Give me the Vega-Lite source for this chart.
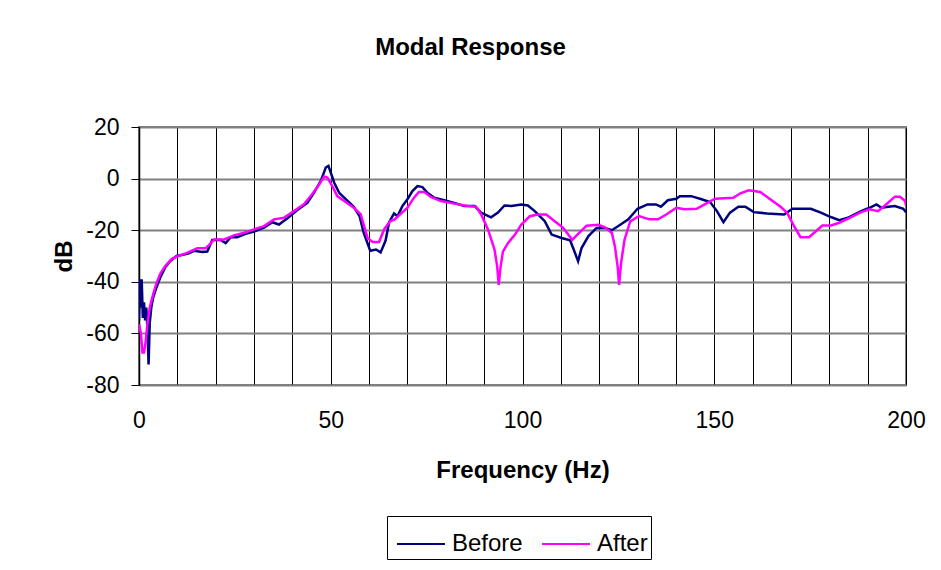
{
  "$schema": "https://vega.github.io/schema/vega-lite/v6.json",
  "width": 767,
  "height": 258,
  "autosize": "none",
  "padding": {"left": 139, "top": 127, "right": 35, "bottom": 185},
  "background": "white",
  "title": {
    "text": "Modal Response",
    "font": "Liberation Sans",
    "fontSize": 24,
    "fontWeight": "bold",
    "color": "black",
    "anchor": "middle",
    "dx": -52,
    "offset": 56
  },
  "config": {
    "view": {"stroke": "#808080", "strokeWidth": 2},
    "font": "Liberation Sans"
  },
  "data": {
    "values": [
      {"f":0,"v":-55,"s":"Before"},{"f":0.3,"v":-39,"s":"Before"},{"f":0.5,"v":-50,"s":"Before"},{"f":0.7,"v":-39,"s":"Before"},{"f":1.0,"v":-54,"s":"Before"},{"f":1.3,"v":-48,"s":"Before"},{"f":1.6,"v":-55,"s":"Before"},{"f":1.9,"v":-50,"s":"Before"},{"f":2.2,"v":-58,"s":"Before"},{"f":2.5,"v":-72,"s":"Before"},{"f":2.8,"v":-56,"s":"Before"},{"f":3.2,"v":-50,"s":"Before"},{"f":3.7,"v":-46,"s":"Before"},{"f":4.6,"v":-42,"s":"Before"},{"f":5.5,"v":-38.5,"s":"Before"},{"f":6.8,"v":-34.5,"s":"Before"},{"f":8.1,"v":-32,"s":"Before"},{"f":9.8,"v":-30,"s":"Before"},{"f":11.5,"v":-29.5,"s":"Before"},{"f":13,"v":-29,"s":"Before"},{"f":14.3,"v":-28,"s":"Before"},{"f":16.5,"v":-28.4,"s":"Before"},{"f":17.8,"v":-28.3,"s":"Before"},{"f":19.1,"v":-23.8,"s":"Before"},{"f":21.3,"v":-23.8,"s":"Before"},{"f":22.6,"v":-25,"s":"Before"},{"f":23.9,"v":-22.7,"s":"Before"},{"f":25.6,"v":-22.7,"s":"Before"},{"f":27.8,"v":-21.4,"s":"Before"},{"f":30,"v":-20.5,"s":"Before"},{"f":32.6,"v":-19,"s":"Before"},{"f":34.8,"v":-16.9,"s":"Before"},{"f":36.5,"v":-17.8,"s":"Before"},{"f":38.7,"v":-15.4,"s":"Before"},{"f":41.3,"v":-12.2,"s":"Before"},{"f":43.9,"v":-9.4,"s":"Before"},{"f":45.6,"v":-5.5,"s":"Before"},{"f":47.4,"v":-0.9,"s":"Before"},{"f":48.7,"v":4.3,"s":"Before"},{"f":49.4,"v":4.9,"s":"Before"},{"f":50,"v":2.3,"s":"Before"},{"f":50.9,"v":-1.6,"s":"Before"},{"f":52.2,"v":-5.5,"s":"Before"},{"f":53.5,"v":-7.4,"s":"Before"},{"f":56,"v":-10.9,"s":"Before"},{"f":57.5,"v":-14.5,"s":"Before"},{"f":58.6,"v":-21,"s":"Before"},{"f":60.3,"v":-28,"s":"Before"},{"f":61.8,"v":-27.5,"s":"Before"},{"f":63,"v":-28.6,"s":"Before"},{"f":64.3,"v":-24,"s":"Before"},{"f":65.2,"v":-17,"s":"Before"},{"f":66.5,"v":-13.5,"s":"Before"},{"f":67.4,"v":-14.6,"s":"Before"},{"f":68.7,"v":-10.6,"s":"Before"},{"f":70,"v":-8,"s":"Before"},{"f":71.3,"v":-4.8,"s":"Before"},{"f":72.6,"v":-2.9,"s":"Before"},{"f":73.9,"v":-3.3,"s":"Before"},{"f":75.2,"v":-5.5,"s":"Before"},{"f":77,"v":-7.4,"s":"Before"},{"f":79.6,"v":-8.4,"s":"Before"},{"f":82.2,"v":-9.4,"s":"Before"},{"f":84.8,"v":-10.6,"s":"Before"},{"f":87.5,"v":-10.6,"s":"Before"},{"f":89.2,"v":-13.2,"s":"Before"},{"f":91.8,"v":-15,"s":"Before"},{"f":93.6,"v":-13.2,"s":"Before"},{"f":95.3,"v":-10.4,"s":"Before"},{"f":97.1,"v":-10.6,"s":"Before"},{"f":99.7,"v":-10,"s":"Before"},{"f":101.4,"v":-10.4,"s":"Before"},{"f":103.2,"v":-12.6,"s":"Before"},{"f":105.8,"v":-16.5,"s":"Before"},{"f":107.6,"v":-21.7,"s":"Before"},{"f":110.2,"v":-23,"s":"Before"},{"f":112.4,"v":-23.9,"s":"Before"},{"f":113.2,"v":-26.9,"s":"Before"},{"f":114.5,"v":-32,"s":"Before"},{"f":115.4,"v":-26.9,"s":"Before"},{"f":117.2,"v":-22.3,"s":"Before"},{"f":119.3,"v":-19.1,"s":"Before"},{"f":121.5,"v":-19.1,"s":"Before"},{"f":123.3,"v":-20,"s":"Before"},{"f":125,"v":-18.4,"s":"Before"},{"f":127.6,"v":-15.8,"s":"Before"},{"f":130,"v":-11.7,"s":"Before"},{"f":132.6,"v":-10,"s":"Before"},{"f":134.8,"v":-10,"s":"Before"},{"f":136.1,"v":-10.9,"s":"Before"},{"f":137.9,"v":-8.4,"s":"Before"},{"f":140.1,"v":-7.8,"s":"Before"},{"f":141,"v":-6.8,"s":"Before"},{"f":144,"v":-6.8,"s":"Before"},{"f":146.7,"v":-8,"s":"Before"},{"f":148.9,"v":-9.1,"s":"Before"},{"f":150.7,"v":-12.6,"s":"Before"},{"f":152.4,"v":-16.9,"s":"Before"},{"f":154.1,"v":-13.2,"s":"Before"},{"f":156.3,"v":-10.9,"s":"Before"},{"f":158.1,"v":-10.9,"s":"Before"},{"f":160.3,"v":-13,"s":"Before"},{"f":163.8,"v":-13.5,"s":"Before"},{"f":168.2,"v":-13.9,"s":"Before"},{"f":170.4,"v":-11.7,"s":"Before"},{"f":175.2,"v":-11.7,"s":"Before"},{"f":177.8,"v":-13.2,"s":"Before"},{"f":180.4,"v":-14.9,"s":"Before"},{"f":182.6,"v":-16.1,"s":"Before"},{"f":184.8,"v":-15.2,"s":"Before"},{"f":188.3,"v":-12.6,"s":"Before"},{"f":190.5,"v":-11.3,"s":"Before"},{"f":192.3,"v":-10,"s":"Before"},{"f":193.6,"v":-11.3,"s":"Before"},{"f":195.4,"v":-10.9,"s":"Before"},{"f":197.1,"v":-10.6,"s":"Before"},{"f":199.3,"v":-11.7,"s":"Before"},{"f":200,"v":-13,"s":"Before"},
      {"f":0,"v":-56.5,"s":"After"},{"f":0.5,"v":-60,"s":"After"},{"f":0.9,"v":-67.4,"s":"After"},{"f":1.3,"v":-67.4,"s":"After"},{"f":1.7,"v":-63.5,"s":"After"},{"f":2.2,"v":-56.4,"s":"After"},{"f":2.8,"v":-50,"s":"After"},{"f":3.7,"v":-44.8,"s":"After"},{"f":4.6,"v":-40.4,"s":"After"},{"f":5.5,"v":-37,"s":"After"},{"f":6.8,"v":-34,"s":"After"},{"f":8.5,"v":-31.2,"s":"After"},{"f":10.2,"v":-30,"s":"After"},{"f":12.2,"v":-29,"s":"After"},{"f":15.2,"v":-27,"s":"After"},{"f":17.4,"v":-27,"s":"After"},{"f":18.3,"v":-25.7,"s":"After"},{"f":19.6,"v":-23.6,"s":"After"},{"f":22.2,"v":-23.6,"s":"After"},{"f":24.8,"v":-22,"s":"After"},{"f":27.4,"v":-21,"s":"After"},{"f":30,"v":-19.7,"s":"After"},{"f":32.6,"v":-18.4,"s":"After"},{"f":35.2,"v":-15.8,"s":"After"},{"f":37.8,"v":-15.2,"s":"After"},{"f":40.4,"v":-12.6,"s":"After"},{"f":43,"v":-10,"s":"After"},{"f":45.2,"v":-6,"s":"After"},{"f":47,"v":-2.2,"s":"After"},{"f":48.3,"v":0.8,"s":"After"},{"f":49.1,"v":0.4,"s":"After"},{"f":50.4,"v":-2.9,"s":"After"},{"f":51.7,"v":-6.8,"s":"After"},{"f":53.5,"v":-8.7,"s":"After"},{"f":56,"v":-11.3,"s":"After"},{"f":57.8,"v":-13.8,"s":"After"},{"f":58.7,"v":-18.4,"s":"After"},{"f":59.6,"v":-23,"s":"After"},{"f":60.9,"v":-24.6,"s":"After"},{"f":62.6,"v":-24.6,"s":"After"},{"f":63.9,"v":-19.7,"s":"After"},{"f":65.5,"v":-16.5,"s":"After"},{"f":66.5,"v":-16,"s":"After"},{"f":70,"v":-11.3,"s":"After"},{"f":71.7,"v":-7.4,"s":"After"},{"f":73,"v":-5.2,"s":"After"},{"f":74.4,"v":-5.2,"s":"After"},{"f":76.1,"v":-7.1,"s":"After"},{"f":78.7,"v":-8.7,"s":"After"},{"f":82.2,"v":-9.7,"s":"After"},{"f":85.7,"v":-10.6,"s":"After"},{"f":87.9,"v":-10.9,"s":"After"},{"f":89.2,"v":-13.8,"s":"After"},{"f":91,"v":-19.7,"s":"After"},{"f":92.7,"v":-27.5,"s":"After"},{"f":93.4,"v":-34,"s":"After"},{"f":93.8,"v":-41.2,"s":"After"},{"f":94.3,"v":-34,"s":"After"},{"f":94.9,"v":-28.3,"s":"After"},{"f":96.2,"v":-25,"s":"After"},{"f":98,"v":-21.8,"s":"After"},{"f":99.7,"v":-17.8,"s":"After"},{"f":101.9,"v":-14.6,"s":"After"},{"f":104.1,"v":-13.9,"s":"After"},{"f":106.2,"v":-13.9,"s":"After"},{"f":108.4,"v":-16.5,"s":"After"},{"f":110.6,"v":-19.1,"s":"After"},{"f":113,"v":-23.7,"s":"After"},{"f":114.5,"v":-21.4,"s":"After"},{"f":116.7,"v":-18.3,"s":"After"},{"f":119.8,"v":-17.9,"s":"After"},{"f":121.5,"v":-18.9,"s":"After"},{"f":123.3,"v":-21.1,"s":"After"},{"f":124.1,"v":-26.3,"s":"After"},{"f":124.8,"v":-34,"s":"After"},{"f":125.2,"v":-41.2,"s":"After"},{"f":125.7,"v":-32.8,"s":"After"},{"f":126.6,"v":-23.7,"s":"After"},{"f":128.1,"v":-16.6,"s":"After"},{"f":130.4,"v":-14.5,"s":"After"},{"f":133.1,"v":-15.8,"s":"After"},{"f":135.3,"v":-15.8,"s":"After"},{"f":137.5,"v":-13.9,"s":"After"},{"f":140.1,"v":-11.3,"s":"After"},{"f":142.3,"v":-11.9,"s":"After"},{"f":145.4,"v":-11.7,"s":"After"},{"f":147.5,"v":-10,"s":"After"},{"f":150.2,"v":-7.8,"s":"After"},{"f":155,"v":-7.4,"s":"After"},{"f":156.8,"v":-5.7,"s":"After"},{"f":159,"v":-4.5,"s":"After"},{"f":162,"v":-5.2,"s":"After"},{"f":164.6,"v":-8,"s":"After"},{"f":167.3,"v":-10.9,"s":"After"},{"f":169,"v":-13.2,"s":"After"},{"f":170.8,"v":-18.4,"s":"After"},{"f":172.5,"v":-22.7,"s":"After"},{"f":174.7,"v":-22.7,"s":"After"},{"f":176.5,"v":-20.4,"s":"After"},{"f":178.2,"v":-18.2,"s":"After"},{"f":180.4,"v":-18.2,"s":"After"},{"f":182.6,"v":-17.1,"s":"After"},{"f":185.3,"v":-15.2,"s":"After"},{"f":188.3,"v":-13,"s":"After"},{"f":190.5,"v":-11.9,"s":"After"},{"f":192.7,"v":-12.6,"s":"After"},{"f":194.5,"v":-10.4,"s":"After"},{"f":197.1,"v":-7,"s":"After"},{"f":198.4,"v":-7,"s":"After"},{"f":199.8,"v":-8.7,"s":"After"},{"f":200,"v":-10.5,"s":"After"}
    ]
  },
  "mark": {"type": "line", "strokeWidth": 2.5, "clip": true},
  "encoding": {
    "x": {
      "field": "f",
      "type": "quantitative",
      "scale": {"domain": [0, 200], "nice": false},
      "axis": {
        "title": "Frequency (Hz)",
        "titleFont": "Liberation Sans",
        "titleFontSize": 24,
        "titleFontWeight": "bold",
        "titleColor": "black",
        "titlePadding": 26,
        "values": [0,10,20,30,40,50,60,70,80,90,100,110,120,130,140,150,160,170,180,190,200],
        "labelExpr": "datum.value % 50 == 0 ? '' + datum.value : ''",
        "labelFont": "Liberation Sans",
        "labelFontSize": 23,
        "labelColor": "black",
        "labelPadding": 24,
        "labelFlush": false,
        "ticks": false,
        "domain": false,
        "grid": true,
        "gridColor": "black",
        "gridWidth": 1,
        "gridOpacity": 1
      }
    },
    "y": {
      "field": "v",
      "type": "quantitative",
      "scale": {"domain": [-80, 20], "nice": false},
      "axis": {
        "title": "dB",
        "titleFont": "Liberation Sans",
        "titleFontSize": 24,
        "titleFontWeight": "bold",
        "titleColor": "black",
        "titlePadding": 9,
        "values": [-80,-60,-40,-20,0,20],
        "labelExpr": "'' + datum.value",
        "labelFont": "Liberation Sans",
        "labelFontSize": 23,
        "labelColor": "black",
        "labelPadding": 12,
        "labelFlush": false,
        "ticks": true,
        "tickSize": 8,
        "tickColor": "black",
        "domain": true,
        "domainColor": "black",
        "domainWidth": 1.5,
        "grid": true,
        "gridColor": "#808080",
        "gridWidth": 2,
        "gridOpacity": 1
      }
    },
    "color": {
      "field": "s",
      "type": "nominal",
      "sort": ["Before", "After"],
      "scale": {"domain": ["Before", "After"], "range": ["#000080", "#FF00FF"]},
      "legend": {
        "title": null,
        "orient": "none",
        "direction": "horizontal",
        "legendX": 248,
        "legendY": 389,
        "symbolType": "stroke",
        "symbolSize": 2300,
        "symbolStrokeWidth": 2,
        "symbolOffset": 6,
        "labelFont": "Liberation Sans",
        "labelFontSize": 24,
        "labelColor": "black",
        "strokeColor": "black",
        "fillColor": "white",
        "padding": 3,
        "columnPadding": 12,
        "labelOffset": 6
      }
    }
  }
}
